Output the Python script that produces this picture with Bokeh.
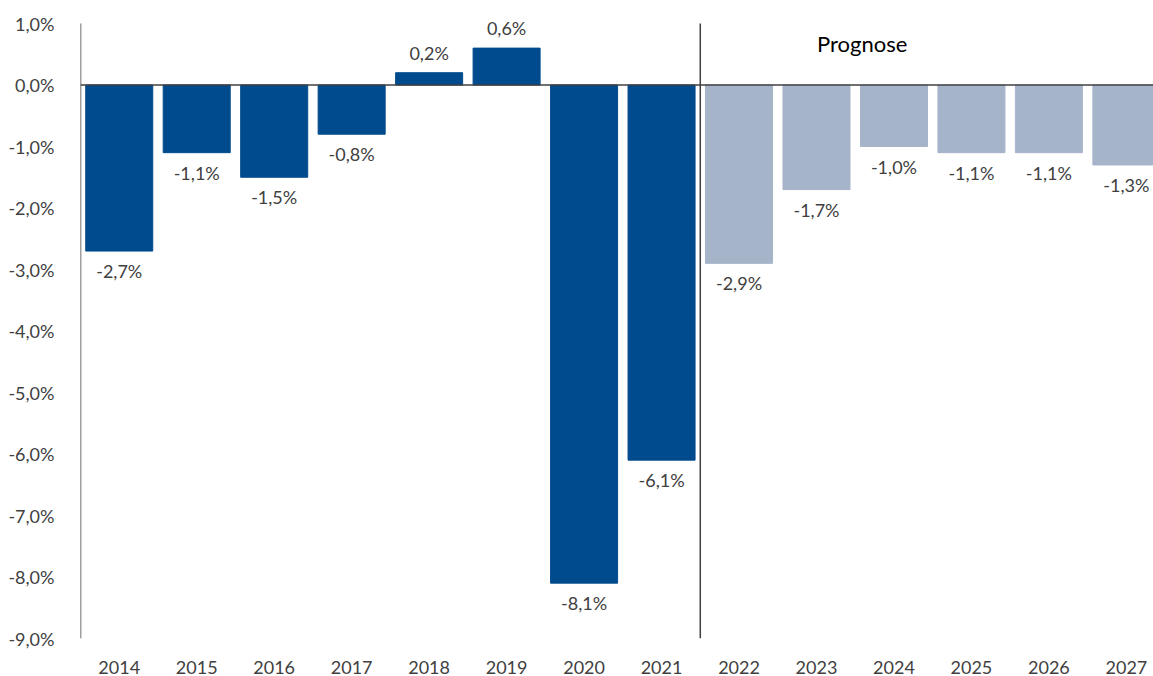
from bokeh.plotting import figure
from bokeh.models import ColumnDataSource, FixedTicker, CustomJSTickFormatter, Span
from bokeh.core.properties import value
from bokeh.embed import file_html
from bokeh.resources import INLINE

years = ["2014", "2015", "2016", "2017", "2018", "2019", "2020", "2021",
         "2022", "2023", "2024", "2025", "2026", "2027"]
values = [-2.7, -1.1, -1.5, -0.8, 0.2, 0.6, -8.1, -6.1,
          -2.9, -1.7, -1.0, -1.1, -1.1, -1.3]
forecast = [False] * 8 + [True] * 6
y_ticks = [1, 0, -1, -2, -3, -4, -5, -6, -7, -8, -9]

FONT = "Lato"
DARK = "#004B8D"
LIGHT = "#A6B4CA"
TXT = "#404040"

xs = list(range(len(years)))
colors = [LIGHT if f else DARK for f in forecast]
labels = [("%.1f%%" % v).replace(".", ",") for v in values]
offsets = [-20 if v >= 0 else 20 for v in values]
src = ColumnDataSource(dict(x=xs, top=values, color=colors, label=labels, off=offsets))

p = figure(width=1153, height=676, output_backend="svg", toolbar_location=None,
           x_range=(-0.5, 13.35), y_range=(-9, 1.293),
           min_border_left=80, min_border_right=0, min_border_top=5, min_border_bottom=38)
p.outline_line_color = None
p.xgrid.visible = False
p.ygrid.visible = False
p.background_fill_color = "white"
p.border_fill_color = "white"

p.vbar(x="x", top="top", bottom=0, width=0.865, color="color", source=src)

p.text(x="x", y="top", text="label", y_offset="off", source=src,
       text_align="center", text_baseline="middle",
       text_font=value(FONT), text_font_size="18px", text_color=TXT)

p.add_layout(Span(location=0, dimension="width", line_color="#404040", line_width=1.5))
# y axis line and forecast separator (from -9 % to 1 %)
p.segment(x0=[-0.5, 7.5], y0=[-9, -9], x1=[-0.5, 7.5], y1=[1, 1],
          line_color="#404040", line_width=1.5)

p.text(x=[9.59], y=[0.675], text=["Prognose"], text_align="center", text_baseline="middle",
       text_font=value(FONT), text_font_size="22px", text_color="black")

# y axis
p.yaxis.ticker = FixedTicker(ticks=y_ticks)
p.yaxis.formatter = CustomJSTickFormatter(code="return tick.toFixed(1).replace('.', ',') + '%';")
p.yaxis.major_tick_line_color = None
p.yaxis.minor_tick_line_color = None
p.yaxis.major_label_standoff = 20
p.yaxis.axis_line_color = None
p.yaxis.major_label_text_font = FONT
p.yaxis.major_label_text_font_size = "18px"
p.yaxis.major_label_text_color = TXT

# x axis
p.xaxis.ticker = FixedTicker(ticks=xs)
p.xaxis.major_label_overrides = {i: y for i, y in enumerate(years)}
p.xaxis.major_tick_line_color = None
p.xaxis.minor_tick_line_color = None
p.xaxis.axis_line_color = None
p.xaxis.major_label_standoff = 16
p.xaxis.major_label_text_font = FONT
p.xaxis.major_label_text_font_size = "18px"
p.xaxis.major_label_text_color = TXT

open("out.html", "w").write(file_html(p, INLINE))
